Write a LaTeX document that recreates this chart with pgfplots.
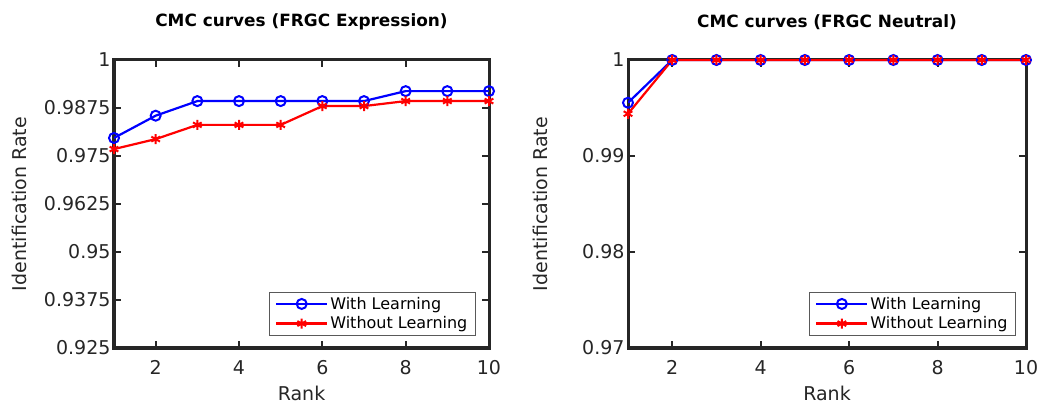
\documentclass[border=0pt]{standalone}
\usepackage{fontspec}
\setmainfont{DejaVu Sans}
\usepackage{pgfplots}
\pgfplotsset{compat=1.18}
\definecolor{axgray}{RGB}{38,38,38}
\pgfplotsset{
  legend image code/.code={\draw[mark repeat=2,mark phase=2,#1] plot coordinates {(0cm,0cm) (0.9cm,0cm) (1.8cm,0cm)};},
  cmc/.style={
    scale only axis, height=288bp,
    axis line style={axgray, line width=3bp},
    every tick/.style={axgray, line width=2bp},
    major tick length=7bp,
    tick align=inside,
    xmin=1, xmax=10, xtick={2,4,6,8,10},
    /pgf/number format/assume math mode=true,
    tick label style={font=\fontsize{19bp}{21bp}\selectfont, text=axgray},
    xticklabel style={yshift=-9bp},
    label style={font=\fontsize{19bp}{21bp}\selectfont, text=axgray},
    title style={font=\fontsize{16.9bp}{19bp}\selectfont\bfseries, anchor=center},
    xlabel=Rank,
    ylabel=Identification Rate,
    xlabel style={at={(axis description cs:0.5,-0.156)}, anchor=center},
    legend cell align=left,
    legend style={draw=gray!70!black, line width=1bp, font=\fontsize{16bp}{19bp}\selectfont, inner xsep=6bp, inner ysep=3bp, row sep=2bp, anchor=south east},
  },
  wl/.style={blue, line width=2.2bp, mark=o, mark size=5bp, mark options={line width=2bp, solid}},
  wol/.style={red, line width=2.2bp, mark=asterisk, mark size=5bp, mark options={line width=2bp, solid}},
}
\begin{document}
\begin{tikzpicture}
\path[use as bounding box] (0,0) rectangle (1038bp,405bp);
\begin{axis}[cmc,
  at={(114bp,57bp)}, anchor=south west, width=375bp,
  ymin=0.925, ymax=1,
  ytick={0.925,0.9375,0.95,0.9625,0.975,0.9875,1},
  yticklabels={0.925,0.9375,0.95,0.9625,0.975,0.9875,1},
  title={CMC curves (FRGC Expression)},
  title style={at={(axis description cs:0.5,1.111)}},
  ylabel style={at={(axis description cs:-0.251,0.5)}, anchor=center},
  legend style={at={(axis description cs:0.965,0.042)}},
]
\addplot[wl] coordinates {(1,0.9797) (2,0.9855) (3,0.9893) (4,0.9893) (5,0.9893) (6,0.9893) (7,0.9893) (8,0.9919) (9,0.9919) (10,0.9919)};
\addplot[wol] coordinates {(1,0.9768) (2,0.9794) (3,0.9831) (4,0.9831) (5,0.9831) (6,0.9880) (7,0.9880) (8,0.9893) (9,0.9893) (10,0.9893)};
\legend{With Learning, Without Learning}
\end{axis}
\begin{axis}[cmc,
  at={(628bp,57bp)}, anchor=south west, width=398bp,
  ymin=0.97, ymax=1,
  ytick={0.97,0.98,0.99,1},
  yticklabels={0.97,0.98,0.99,1},
  title={CMC curves (FRGC Neutral)},
  title style={at={(axis description cs:0.5,1.111)}},
  ylabel style={at={(axis description cs:-0.221,0.5)}, anchor=center},
  legend style={at={(axis description cs:0.975,0.042)}},
]
\addplot[wl] coordinates {(1,0.99555) (2,1) (3,1) (4,1) (5,1) (6,1) (7,1) (8,1) (9,1) (10,1)};
\addplot[wol] coordinates {(1,0.9944) (2,1) (3,1) (4,1) (5,1) (6,1) (7,1) (8,1) (9,1) (10,1)};
\legend{With Learning, Without Learning}
\end{axis}
\end{tikzpicture}
\end{document}
